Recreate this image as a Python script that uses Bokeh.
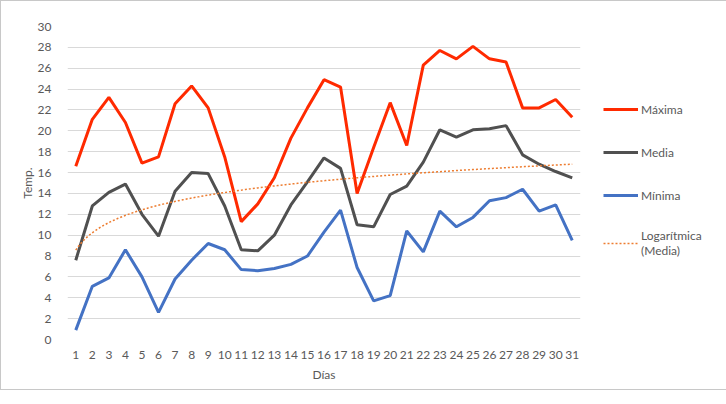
import numpy as np
from bokeh.plotting import figure
from bokeh.models import Legend, LegendItem, Range1d, FixedTicker, ColumnDataSource
from bokeh.embed import file_html
from bokeh.resources import INLINE

days = list(range(1, 32))
maxima = [16.6, 21.1, 23.2, 20.8, 16.9, 17.5, 22.6, 24.3, 22.2, 17.5,
          11.3, 13.0, 15.5, 19.3, 22.2, 24.9, 24.2, 14.0, 18.4, 22.7,
          18.6, 26.3, 27.7, 26.9, 28.1, 26.9, 26.6, 22.2, 22.2, 23.0, 21.3]
media = [7.6, 12.8, 14.1, 14.9, 12.0, 9.9, 14.2, 16.0, 15.9, 12.8,
         8.6, 8.5, 10.0, 12.9, 15.1, 17.4, 16.4, 11.0, 10.8, 13.9,
         14.7, 17.0, 20.1, 19.4, 20.1, 20.2, 20.5, 17.7, 16.8, 16.1, 15.5]
minima = [0.9, 5.1, 5.9, 8.6, 6.0, 2.6, 5.8, 7.6, 9.2, 8.6,
          6.7, 6.6, 6.8, 7.2, 8.0, 10.3, 12.4, 6.9, 3.7, 4.2,
          10.4, 8.4, 12.3, 10.8, 11.7, 13.3, 13.6, 14.4, 12.3, 12.9, 9.5]
y_ticks = list(range(0, 31, 2))

FONT = "Lato"
TXT = "#595959"

# logarithmic trendline fitted to Media
a, b = np.polyfit(np.log(days), media, 1)
tx = np.linspace(1, 31, 200)
ty = a * np.log(tx) + b

p = figure(width=710, height=388, output_backend="svg", toolbar_location=None,
           frame_width=513, frame_height=313,
           min_border_left=66, min_border_right=131, min_border_top=25, min_border_bottom=50,
           x_range=Range1d(0.5, 31.5), y_range=Range1d(0, 30))
p.styles = {"border": "1px solid #c8c8c8"}
p.outline_line_color = None
p.background_fill_color = "white"

src = ColumnDataSource(dict(d=days, mx=maxima, md=media, mn=minima))
r_max = p.line("d", "mx", source=src, line_color="#FF2A00", line_width=3)
r_med = p.line("d", "md", source=src, line_color="#505050", line_width=3)
r_min = p.line("d", "mn", source=src, line_color="#4472C4", line_width=3)
r_log = p.line(tx, ty, line_color="#ED7D31", line_width=1.5, line_dash="2 2")

p.xgrid.grid_line_color = None
p.ygrid.grid_line_color = "#d9d9d9"
p.ygrid.grid_line_width = 1

p.yaxis.ticker = FixedTicker(ticks=y_ticks)
p.xaxis.ticker = FixedTicker(ticks=days)
for ax in (p.xaxis, p.yaxis):
    ax.axis_line_color = None
    ax.major_tick_line_color = None
    ax.minor_tick_line_color = None
    ax.major_label_text_font = FONT
    ax.major_label_text_font_size = "12px"
    ax.major_label_text_color = TXT
    ax.axis_label_text_font = FONT
    ax.axis_label_text_font_size = "12px"
    ax.axis_label_text_color = TXT
    ax.axis_label_text_font_style = "normal"
p.xaxis.axis_label = "Días"
p.yaxis.axis_label = "Temp."
p.xaxis.major_label_standoff = 5
p.xaxis.axis_label_standoff = 5
p.yaxis.major_label_standoff = 10
p.yaxis.axis_label_standoff = 0

legend = Legend(items=[
    LegendItem(label="Máxima", renderers=[r_max]),
    LegendItem(label="Media", renderers=[r_med]),
    LegendItem(label="Mínima", renderers=[r_min]),
    LegendItem(label="Logarítmica\n(Media)", renderers=[r_log]),
], location=(23, 81))
legend.border_line_color = None
legend.background_fill_alpha = 0
legend.label_text_font = FONT
legend.label_text_font_size = "12px"
legend.label_text_color = TXT
legend.glyph_width = 35
legend.glyph_height = 20
legend.label_height = 20
legend.label_standoff = 3
legend.spacing = 23
legend.padding = 0
legend.margin = 0
p.add_layout(legend, "right")

open("out.html", "w").write(file_html(p, INLINE))
